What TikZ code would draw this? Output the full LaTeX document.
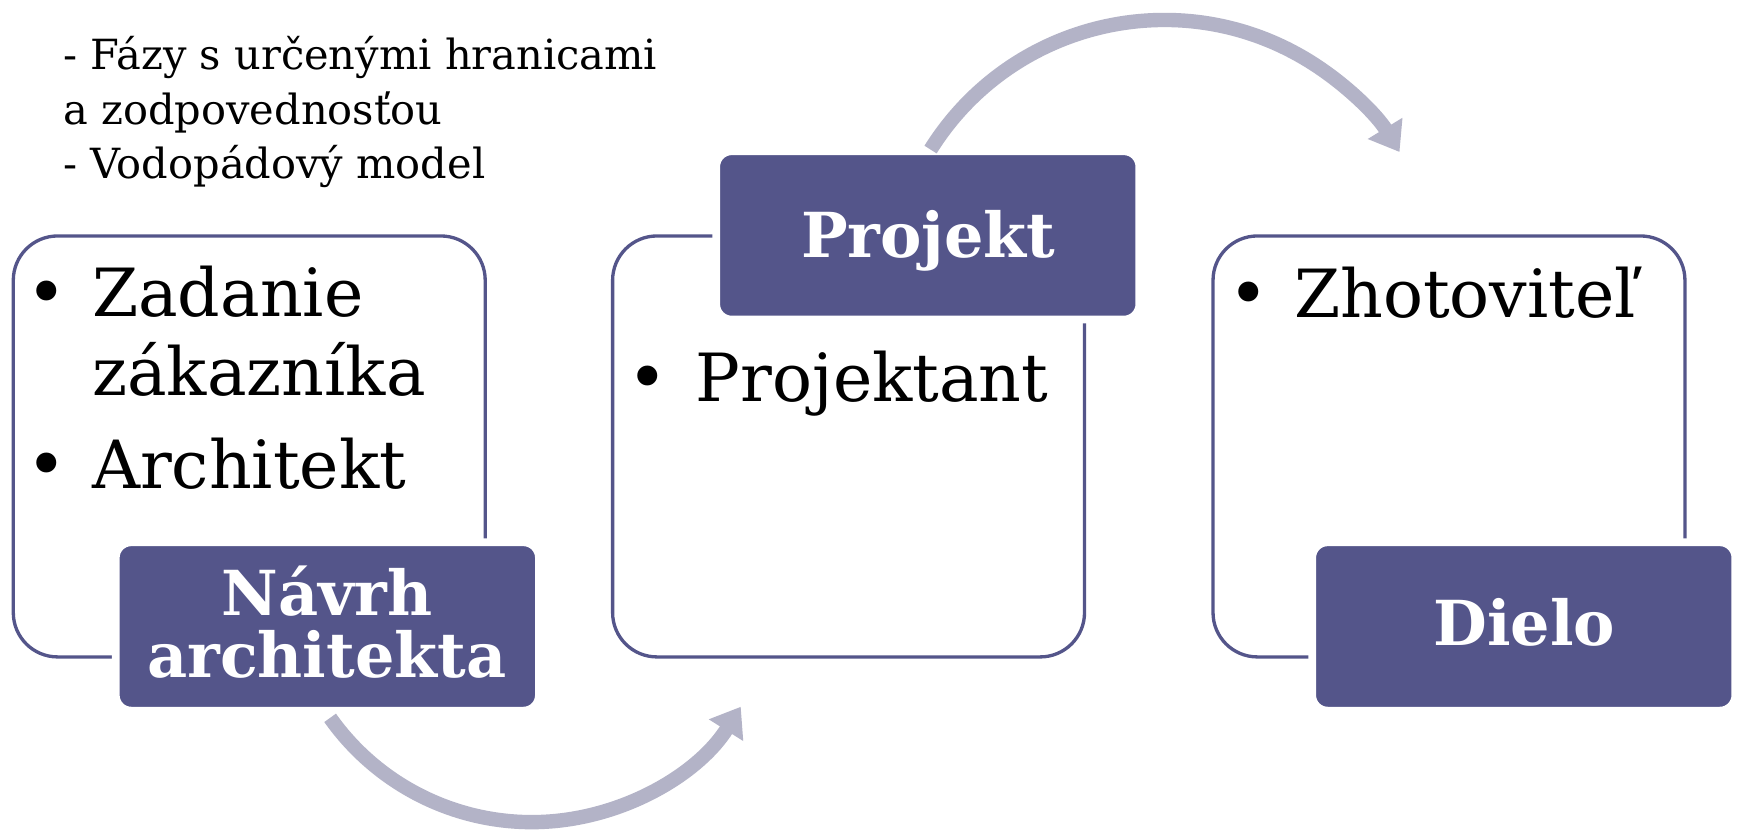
\documentclass[tikz,border=0pt]{standalone}
\usepackage{fontspec}
\setmainfont{DejaVu Serif}
\usetikzlibrary{arrows.meta}
\definecolor{pur}{RGB}{84,85,138}
\definecolor{arrc}{RGB}{179,179,199}
\begin{document}
\begin{tikzpicture}[x=1pt,y=1pt,
  outerbox/.style={draw=pur, line width=3pt, fill=white, rounded corners=40pt,
    minimum width=426pt, minimum height=380pt, anchor=north west, inner sep=0pt, outer sep=0pt},
  tagbox/.style={fill=pur, draw=white, line width=7pt, rounded corners=14pt,
    minimum width=382pt, minimum height=152pt, anchor=north west, inner sep=0pt, outer sep=0pt},
  tagtext/.style={text=white, font=\fontsize{56}{56}\selectfont\bfseries, align=center, inner sep=0pt},
  bodytext/.style={font=\fontsize{60}{60}\selectfont, anchor=base west, inner sep=0pt},
  bullet/.style={font=\fontsize{62}{62}\selectfont, anchor=base, inner sep=0pt},
  notetext/.style={font=\fontsize{37.5}{37.5}\selectfont, anchor=base west, inner sep=0pt},
  cyclearrow/.style={draw=arrc, line width=13pt, -{Triangle[width=35pt,length=25pt]}},
]
\useasboundingbox (0,0) rectangle (1568,-756);
\fill[white] (0,0) rectangle (1568,-756);

% note text
\node[notetext] (n1) at (57,-63) {- Fázy s určenými hranicami};
\node[notetext] (n2) at (57,-112) {a zodpovednosťou};
\node[notetext] (n3) at (57,-161) {- Vodopádový model};

% white boxes
\node[outerbox] (b1) at (12,-213) {};
\node[outerbox] (b2) at (553,-213) {};
\node[outerbox] (b3) at (1095,-213) {};

% purple tags
\node[tagbox] (t1) at (104.5,-489.5) {};
\node[tagbox] (t2) at (646.5,-136.5) {};
\node[tagbox] (t3) at (1184.5,-489.5) {};

\node[tagtext, anchor=base] (t1a) at (295,-556) {Návrh};
\node[tagtext, anchor=base] (t1b) at (295,-612) {architekta};
\node[tagtext, anchor=base] (t2a) at (838,-232) {Projekt};
\node[tagtext, anchor=base] (t3a) at (1376,-583) {Dielo};

% bullet texts
\node[bullet] (p1) at (42,-286) {•};
\node[bodytext] (l1) at (83,-286) {Zadanie};
\node[bodytext] (l2) at (83,-357) {zákazníka};
\node[bullet] (p2) at (42,-441) {•};
\node[bodytext] (l3) at (83,-441) {Architekt};

\node[bullet] (p3) at (585,-362) {•};
\node[bodytext] (l4) at (628,-362) {Projektant};

\node[bullet] (p4) at (1127,-287) {•};
\node[bodytext] (l5) at (1168,-287) {Zhotoviteľ};

% arrows
\coordinate (a1s) at (298,-648);
\coordinate (a2s) at (840,-135);
\draw[cyclearrow] (a1s) arc[start angle=215.3, end angle=327.8, radius=223pt];
\draw[cyclearrow] (a2s) arc[start angle=148, end angle=31.4, radius=248.8pt];
\end{tikzpicture}
\end{document}
